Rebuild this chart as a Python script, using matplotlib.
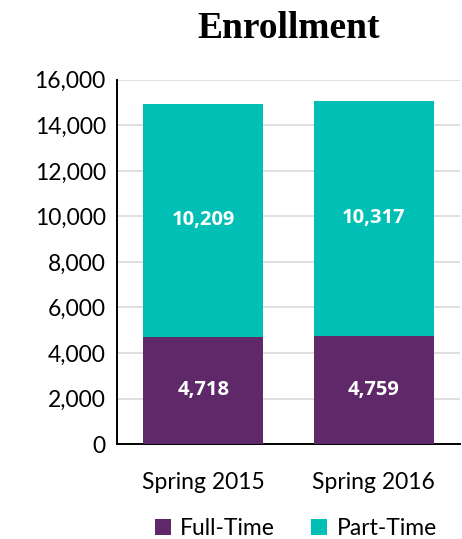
import matplotlib.pyplot as plt
import matplotlib.ticker as mticker

# ── Data ──────────────────────────────────────────────────────────────────────
terms      = ["Spring 2015", "Spring 2016"]
full_time  = [4718, 4759]
part_time  = [10209, 10317]

PURPLE = "#5F2868"
TEAL   = "#00BFB4"

plt.rcParams.update({
    "font.family": ["Lato", "DejaVu Sans"],
    "font.size":   16.5,
})

fig = plt.figure(figsize=(4.62, 5.39), dpi=100)
ax = fig.add_axes([0.253, 0.176, 0.743, 0.676])

x = range(len(terms))
b1 = ax.bar(x, full_time, width=0.706, color=PURPLE, label="Full-Time", zorder=3)
b2 = ax.bar(x, part_time, width=0.706, bottom=full_time, color=TEAL,
            label="Part-Time", zorder=3)

for bars, vals, base in [(b1, full_time, [0, 0]), (b2, part_time, full_time)]:
    for bar, v, b in zip(bars, vals, base):
        ax.text(bar.get_x() + bar.get_width() / 2, b + v / 2, f"{v:,}",
                ha="center", va="center", color="white", fontsize=14.5,
                family="Open Sans", fontweight="bold", zorder=4)

ax.set_ylim(0, 16000)
ax.set_xlim(-0.506, 1.506)
ax.yaxis.set_major_locator(mticker.MultipleLocator(2000))
ax.yaxis.set_major_formatter(mticker.FuncFormatter(lambda v, _: f"{int(v):,}"))
ax.set_xticks(list(x))
ax.set_xticklabels(terms)
ax.tick_params(length=0, pad=8)
ax.tick_params(axis="x", pad=20)
ax.grid(axis="y", color="#D9D9D9", lw=1.2, zorder=0)
for s in ["top", "right"]:
    ax.spines[s].set_visible(False)
ax.spines["left"].set_linewidth(1.4)
ax.spines["bottom"].set_linewidth(1.4)

fig.text(0.625, 0.948, "Enrollment", ha="center", va="center",
         family="Liberation Serif", fontweight="bold", fontsize=27)

fig.legend(handles=[b1, b2], loc="center", bbox_to_anchor=(0.64, 0.02),
           ncol=2, frameon=False, handlelength=0.7, handleheight=0.7,
           handletextpad=0.4, columnspacing=1.6, fontsize=16.5)

plt.savefig("out.png", dpi=100)
